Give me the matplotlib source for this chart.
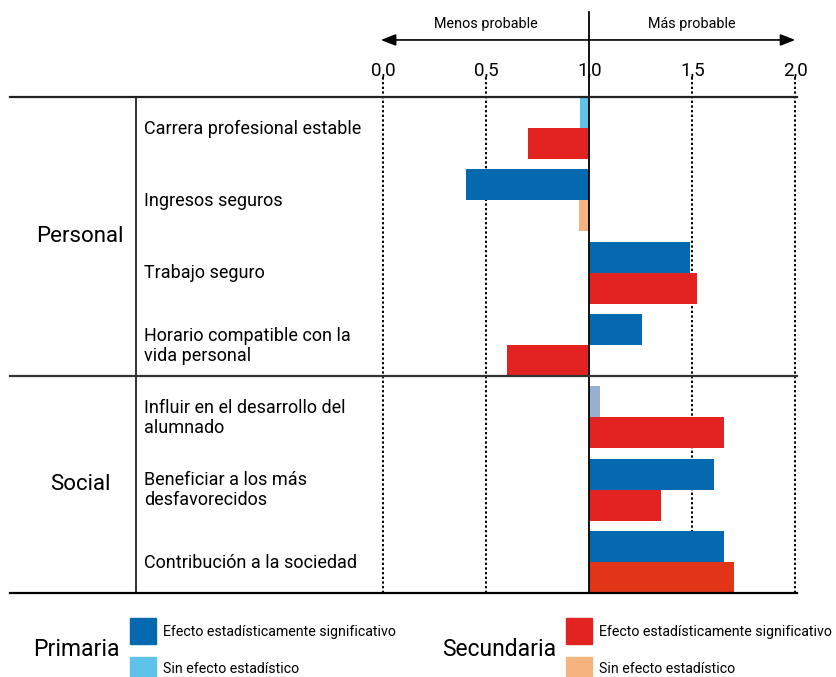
import matplotlib.pyplot as plt
from matplotlib.patches import Rectangle
from matplotlib.lines import Line2D
import matplotlib.transforms as mtransforms

plt.rcParams['font.family'] = ['Roboto', 'DejaVu Sans']

# data (odds ratios)
categories = ["Carrera profesional estable", "Ingresos seguros", "Trabajo seguro",
              "Horario compatible con la\nvida personal",
              "Influir en el desarrollo del\nalumnado",
              "Beneficiar a los más\ndesfavorecidos", "Contribución a la sociedad"]
groups = ["Personal", "Social"]
group_sizes = [4, 3]
primaria = [0.955, 0.40, 1.49, 1.255, 1.05, 1.605, 1.655]
secundaria = [0.70, 0.95, 1.525, 0.60, 1.655, 1.35, 1.70]
ticks = [0.0, 0.5, 1.0, 1.5, 2.0]
tick_labels = ["0,0", "0,5", "1,0", "1,5", "2,0"]

# colours
BLUE = "#0569b0"
LBLUE = "#5ec2eb"
RED = "#e32321"
ORANGE = "#f5b47f"
prim_colors = [LBLUE, BLUE, BLUE, BLUE, "#98b0cf", BLUE, BLUE]
sec_colors = [RED, ORANGE, RED, RED, RED, RED, "#e23518"]

W, H = 837, 677
fig = plt.figure(figsize=(W / 100, H / 100), dpi=100)
ax = fig.add_axes([383.3 / W, 84 / H, 412 / W, 496 / H])

h = 0.43
ys = list(range(len(categories)))
ax.barh([y - h / 2 for y in ys], [v - 1 for v in primaria], left=1, height=h,
        color=prim_colors, zorder=3)
ax.barh([y + h / 2 for y in ys], [v - 1 for v in secundaria], left=1, height=h,
        color=sec_colors, zorder=3)
ax.set_xlim(0, 2)
ax.set_ylim(len(categories) - 1 + h, -h)

for s in ax.spines.values():
    s.set_visible(False)
ax.set_yticks([])
ax.xaxis.tick_top()
ax.set_xticks(ticks, tick_labels)
ax.tick_params(axis='x', length=0, pad=13, labelsize=13.5, colors='black')

# dotted guides and the reference line at 1
for t in ticks:
    if t == 1.0:
        ax.axvline(t, 0, 1.171, color='black', lw=1.3, clip_on=False, zorder=5)
    else:
        ax.axvline(t, 0, 1.04, color='black', lw=1.4, ls=(0, (1.2, 1.2)),
                   clip_on=False, zorder=1)

# arrow header
bt = mtransforms.blended_transform_factory(ax.transData, ax.transAxes)
ax.annotate("", xy=(-0.012, 1.115), xytext=(2.0, 1.115), xycoords=bt, textcoords=bt,
            arrowprops=dict(arrowstyle="<|-|>,head_length=0.9,head_width=0.35",
                            color='black', lw=1.2, shrinkA=0, shrinkB=0))
ax.text(0.5, 1.147, "Menos probable", transform=bt, ha='center', va='center', fontsize=10.4)
ax.text(1.5, 1.147, "Más probable", transform=bt, ha='center', va='center', fontsize=10.4)

# table lines on the left
ft = mtransforms.blended_transform_factory(fig.transFigure, ax.transData)
top, bottom = -h, len(categories) - 1 + h
sep = group_sizes[0] - 1 + h
for yy, c in [(top, '#222222'), (sep, '#333333'), (bottom, 'black')]:
    fig.add_artist(Line2D([10 / W, 797 / W], [yy, yy], transform=ft, color=c, lw=1.6, zorder=6))
fig.add_artist(Line2D([136 / W, 136 / W], [top, bottom], transform=ft, color='#222222', lw=1.3))

for y, name in zip(ys, categories):
    fig.text(144 / W, y + 0.01, name, transform=ft, ha='left', va='center',
             fontsize=13, linespacing=1.12)

fig.text(80 / W, (top + sep) / 2, groups[0], transform=ft, ha='center', va='center', fontsize=16)
fig.text(80 / W, (sep + bottom) / 2, groups[1], transform=ft, ha='center', va='center', fontsize=16)

# legend
def legend_block(x_title, x_box, title, c1, c2):
    fig.text(x_title / W, 27 / H, title, ha='left', va='center', fontsize=16.5)
    fig.add_artist(Rectangle((x_box / W, 33 / H), 26 / W, 26 / H, color=c1, transform=fig.transFigure))
    fig.add_artist(Rectangle((x_box / W, -6 / H), 26 / W, 26 / H, color=c2, transform=fig.transFigure))
    fig.text((x_box + 33) / W, 45 / H, "Efecto estadísticamente significativo",
             ha='left', va='center', fontsize=10.2)
    fig.text((x_box + 33) / W, 8 / H, "Sin efecto estadístico",
             ha='left', va='center', fontsize=10.2)

legend_block(33, 130, "Primaria", BLUE, LBLUE)
legend_block(442, 566, "Secundaria", RED, ORANGE)

fig.savefig("out.png", dpi=100)
